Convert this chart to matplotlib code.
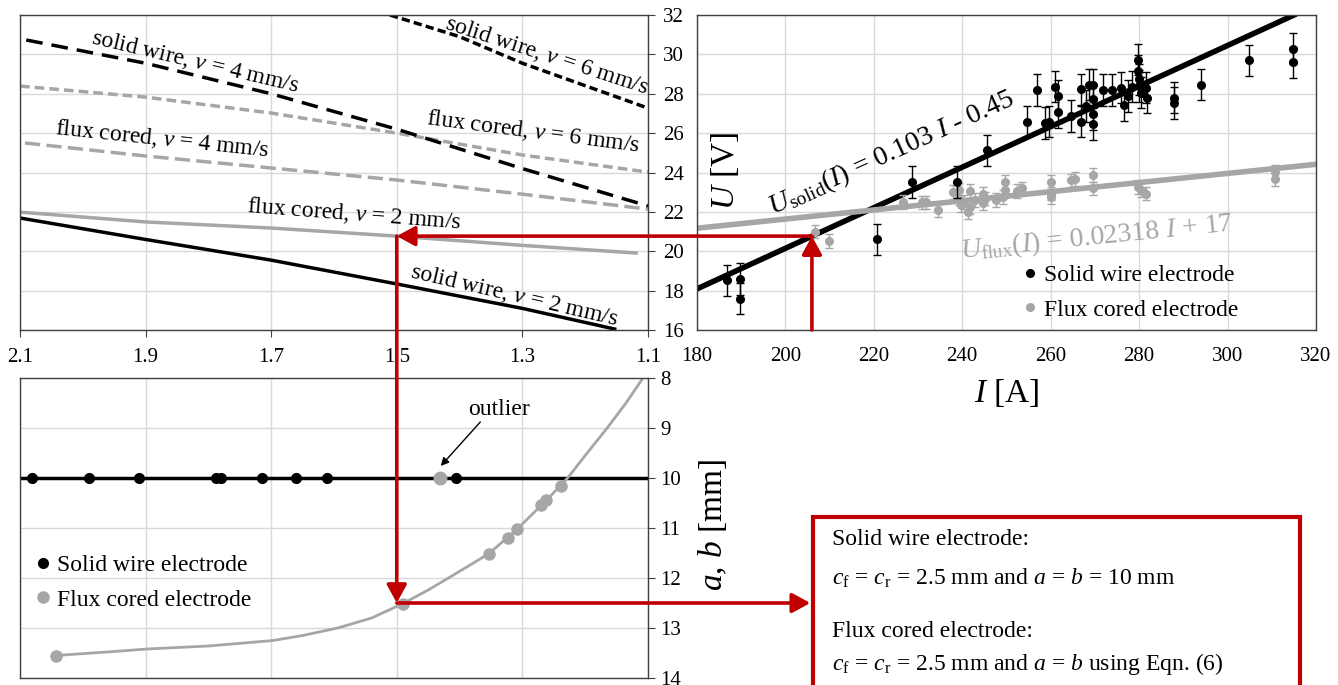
import matplotlib
matplotlib.use("Agg")
import matplotlib.pyplot as plt
from matplotlib.lines import Line2D
from matplotlib.patches import ConnectionPatch, Rectangle
from matplotlib import transforms

# === fonts: Times-like serif everywhere ===
plt.rcParams["font.family"] = ["Liberation Serif", "DejaVu Serif"]
plt.rcParams["mathtext.fontset"] = "custom"
plt.rcParams["mathtext.rm"] = "Liberation Serif"
plt.rcParams["mathtext.it"] = "Liberation Serif:italic"
plt.rcParams["lines.scale_dashes"] = False

RED = "#c00000"
GRAY = "#a6a6a6"
GRID = "#d9d9d9"
SPINE = "#404040"

# === top left: U vs q_net for each electrode / travel speed ===
q_sw2 = [2.1, 1.9, 1.7, 1.5, 1.3, 1.153]
U_sw2 = [21.69, 20.6, 19.55, 18.34, 17.1, 16.05]
q_fc2 = [2.1, 1.9, 1.7, 1.5, 1.3, 1.119]
U_fc2 = [21.99, 21.49, 21.18, 20.77, 20.3, 19.91]
q_fc4 = [2.092, 1.9, 1.7, 1.5, 1.3, 1.1]
U_fc4 = [25.5, 24.84, 24.23, 23.62, 22.9, 22.14]
q_fc6 = [2.1, 1.9, 1.7, 1.5, 1.3, 1.1]
U_fc6 = [28.39, 27.83, 27.02, 26.0, 24.89, 24.02]
q_sw4 = [2.09, 1.9, 1.7, 1.5, 1.3, 1.1]
U_sw4 = [30.73, 29.55, 28.0, 26.2, 24.2, 22.3]
q_sw6 = [1.511, 1.4, 1.3, 1.1]
U_sw6 = [32.0, 30.9, 29.55, 27.27]

# === top right: measured U vs I ===
I_solid = [186.9, 189.7, 189.7, 220.7, 228.7, 238.8, 245.6, 254.7, 256.9, 258.7,
           259.7, 260.9, 261.6, 261.6, 264.6, 266.8, 266.8, 268.1, 268.6, 269.6,
           269.6, 269.6, 269.6, 271.9, 273.9, 275.8, 276.5, 277.5, 278.5, 279.8,
           279.8, 280.0, 280.0, 280.5, 281.5, 281.8, 288.0, 288.0, 293.9, 304.8,
           314.8, 314.8]
U_solid = [18.52, 18.6, 17.6, 20.6, 23.52, 23.52, 25.12, 26.58, 28.19, 26.51,
           26.58, 28.36, 27.89, 27.05, 26.88, 28.22, 26.58, 27.38, 28.47, 28.47,
           27.72, 26.96, 26.46, 28.19, 28.19, 28.31, 27.42, 27.89, 28.36, 29.73,
           29.15, 28.73, 28.39, 28.06, 28.31, 27.8, 27.8, 27.52, 28.47, 29.7,
           30.29, 29.6]
I_flux = [206.8, 209.8, 226.7, 230.8, 231.8, 234.6, 237.8, 239.3, 239.3, 239.8,
          240.3, 241.3, 241.8, 241.8, 242.8, 244.7, 244.7, 245.2, 247.7, 249.2,
          249.7, 249.7, 252.5, 253.5, 260.0, 260.0, 260.0, 264.6, 265.6, 269.6,
          269.6, 279.8, 280.5, 281.5, 310.8, 310.8]
U_flux = [21.0, 20.53, 22.51, 22.48, 22.48, 22.1, 23.02, 23.1, 22.68, 22.35,
          22.5, 22.0, 23.05, 22.26, 22.6, 22.93, 22.43, 22.68, 22.6, 22.77,
          23.52, 23.1, 23.05, 23.19, 23.52, 22.93, 22.77, 23.6, 23.69, 23.89,
          23.19, 23.27, 23.1, 22.93, 24.02, 23.69]
err_solid = 0.8
err_flux = 0.35

# fitted lines (coefficients as printed)
k_solid, c_solid = 0.103, -0.45
k_flux, c_flux = 0.02318, 17.0
I_fit_solid = [180, 315]
I_fit_flux = [180, 320]

# === bottom left: a, b vs q_net ===
q_ab_solid = [2.081, 1.99, 1.911, 1.788, 1.78, 1.715, 1.661, 1.611, 1.406]
ab_solid = [10] * len(q_ab_solid)
q_ab_flux = [2.043, 1.49, 1.353, 1.323, 1.309, 1.27, 1.262, 1.239]
ab_flux = [13.55, 12.51, 11.51, 11.21, 11.03, 10.55, 10.45, 10.16]
q_outlier, ab_outlier = 1.431, 10.0
q_ab_curve = [2.043, 1.95, 1.898, 1.8, 1.697, 1.65, 1.594, 1.54, 1.49, 1.45,
              1.407, 1.353, 1.309, 1.262, 1.228, 1.2, 1.165, 1.135, 1.108]
ab_curve = [13.55, 13.47, 13.42, 13.36, 13.25, 13.15, 13.0, 12.8, 12.51, 12.24,
            11.92, 11.51, 11.03, 10.45, 10.0, 9.55, 9.0, 8.5, 8.0]

# operating point followed by the red arrows
op_I, op_U = 206.0, 20.77
op_q, op_ab = 1.5, 12.5

fig = plt.figure(figsize=(13.38, 6.85), dpi=100)
ax_tl = fig.add_axes([0.0149, 0.5182, 0.4694, 0.4599])
ax_tr = fig.add_axes([0.5209, 0.5182, 0.4626, 0.4599])
ax_bl = fig.add_axes([0.0149, 0.0102, 0.4694, 0.4380])

for ax in (ax_tl, ax_tr, ax_bl):
    ax.set_axisbelow(True)
    ax.grid(True, color=GRID, lw=1)
    for s in ax.spines.values():
        s.set_color(SPINE)
        s.set_linewidth(1)

q_ticks = [2.1, 1.9, 1.7, 1.5, 1.3, 1.1]

# --- top left ---
lw = 2.5
ax_tl.plot(q_sw2, U_sw2, color="black", lw=lw)
ax_tl.plot(q_fc2, U_fc2, color=GRAY, lw=lw)
ax_tl.plot(q_fc4, U_fc4, color=GRAY, lw=lw, ls=(0, (11, 4.5)))
ax_tl.plot(q_fc6, U_fc6, color=GRAY, lw=lw, ls=(0, (7, 3.6)))
ax_tl.plot(q_sw4, U_sw4, color="black", lw=lw, ls=(0, (12, 6.5)))
ax_tl.plot(q_sw6, U_sw6, color="black", lw=lw, ls=(0, (6, 3)))
ax_tl.set_xlim(2.1, 1.1)
ax_tl.set_ylim(16, 32)
ax_tl.set_xticks(q_ticks)
ax_tl.set_xticklabels([f"{q:.1f}" for q in q_ticks])
ax_tl.set_yticks(range(16, 33, 2))
ax_tl.yaxis.tick_right()
ax_tl.tick_params(axis="y", labelright=False, direction="out", length=5, color=SPINE)
ax_tl.tick_params(axis="x", direction="out", length=5, pad=8, labelsize=15, color=SPINE)
ax_tl.set_xlabel(r"$q_\mathrm{net}$ [kJ/mm]", fontsize=24, va="center")
ax_tl.xaxis.set_label_coords(0.474, -0.254)

lab = dict(fontsize=17, ha="center", va="center", rotation_mode="anchor")
ax_tl.text(1.821, 29.6, r"solid wire, $v$ = 4 mm/s", rotation=-13.3, **lab)
ax_tl.text(1.261, 29.95, r"solid wire, $v$ = 6 mm/s", rotation=-18, **lab)
ax_tl.text(1.282, 26.05, r"flux cored, $v$ = 6 mm/s", rotation=-7.4, **lab)
ax_tl.text(1.874, 25.7, r"flux cored, $v$ = 4 mm/s", rotation=-6, **lab)
ax_tl.text(1.567, 21.9, r"flux cored, $v$ = 2 mm/s", rotation=-4.4, **lab)
ax_tl.text(1.313, 17.78, r"solid wire, $v$ = 2 mm/s", rotation=-13.1, **lab)

# --- top right ---
ax_tr.plot(I_fit_solid, [k_solid * i + c_solid for i in I_fit_solid], color="black", lw=4, zorder=2)
ax_tr.plot(I_fit_flux, [k_flux * i + c_flux for i in I_fit_flux], color=GRAY, lw=4, zorder=2)
ax_tr.errorbar(I_flux, U_flux, yerr=err_flux, fmt="o", color=GRAY, ms=5.5,
               elinewidth=1, capsize=3, capthick=1, zorder=3)
ax_tr.errorbar(I_solid, U_solid, yerr=err_solid, fmt="o", color="black", ms=5.5,
               elinewidth=1, capsize=3, capthick=1, zorder=4)
ax_tr.set_xlim(180, 320)
ax_tr.set_ylim(16, 32)
ax_tr.set_xticks(range(180, 321, 20))
ax_tr.set_yticks(range(16, 33, 2))
ax_tr.tick_params(axis="x", length=0, pad=12, labelsize=15)
ax_tr.tick_params(axis="y", length=0, pad=9.5, labelsize=15)
ax_tr.set_xlabel(r"$I$ [A]", fontsize=24, va="center")
ax_tr.xaxis.set_label_coords(0.5, -0.2)
ax_tr.set_ylabel(r"$U$ [V]", fontsize=24, va="center")
ax_tr.yaxis.set_label_coords(0.045, 0.505)
ax_tr.text(224.0, 25.0, r"$U_\mathrm{solid}(I)$ = 0.103 $I$ - 0.45", fontsize=20,
           rotation=24.5, ha="center", va="center", rotation_mode="anchor", zorder=5)
ax_tr.text(270.5, 20.7, r"$U_\mathrm{flux}(I)$ = 0.02318 $I$ + 17", fontsize=20, color=GRAY,
           rotation=5.8, ha="center", va="center", rotation_mode="anchor", zorder=5)
h_tr = [Line2D([], [], marker="o", ls="", color="black", ms=5.5),
        Line2D([], [], marker="o", ls="", color=GRAY, ms=5.5)]
ax_tr.legend(h_tr, ["Solid wire electrode", "Flux cored electrode"], loc="lower left",
             bbox_to_anchor=(0.527, 0.03), frameon=False, fontsize=17, handlelength=0.6,
             handletextpad=0.3, borderpad=0, borderaxespad=0, labelspacing=0.55)

# --- bottom left ---
ax_bl.axhline(10, color="black", lw=2.5, zorder=2)
ax_bl.plot(q_ab_curve, ab_curve, color=GRAY, lw=2, zorder=2)
ax_bl.plot(q_ab_solid, ab_solid, "o", color="black", ms=7, zorder=3)
ax_bl.plot(q_ab_flux, ab_flux, "o", color=GRAY, ms=8, zorder=3)
ax_bl.plot([q_outlier], [ab_outlier], "o", color=GRAY, ms=9, zorder=3)
ax_bl.set_xlim(2.1, 1.1)
ax_bl.set_ylim(14, 8)
ax_bl.set_xticks(q_ticks)
ax_bl.set_yticks(range(8, 15))
ax_bl.yaxis.tick_right()
ax_bl.tick_params(axis="x", length=0, labelbottom=False)
ax_bl.tick_params(axis="y", direction="out", length=5, pad=4, labelsize=15, color=SPINE)
ax_bl.yaxis.set_label_position("right")
ax_bl.set_ylabel(r"$a$, $b$ [mm]", fontsize=24, va="center", rotation=90)
ax_bl.yaxis.set_label_coords(1.102, 0.51)
ax_bl.text(1.337, 8.64, "outlier", fontsize=17, ha="center", va="center")
ax_bl.annotate("", xy=(1.43, 9.76), xytext=(1.367, 8.88),
               arrowprops=dict(arrowstyle="-|>", color="black", lw=1, mutation_scale=12,
                               shrinkA=0, shrinkB=0))
h_bl = [Line2D([], [], marker="o", ls="", color="black", ms=7),
        Line2D([], [], marker="o", ls="", color=GRAY, ms=8)]
ax_bl.legend(h_bl, ["Solid wire electrode", "Flux cored electrode"], loc="lower left",
             bbox_to_anchor=(0.025, 0.225), frameon=False, fontsize=17, handlelength=0.6,
             handletextpad=0.3, borderpad=0, borderaxespad=0, labelspacing=0.55)

# --- red arrows following the operating point ---
arrow = dict(arrowstyle="-|>,head_length=0.55,head_width=0.3", color=RED, lw=2.6,
             mutation_scale=20, shrinkA=0, shrinkB=0)
box_left = 813 / 1338
segs = [
    ((op_I, 16), ax_tr.transData, (op_I, op_U), ax_tr.transData),
    ((op_I, op_U), ax_tr.transData, (op_q, op_U), ax_tl.transData),
    ((op_q, op_U), ax_tl.transData, (op_q, op_ab), ax_bl.transData),
    ((op_q, op_ab), ax_bl.transData, (box_left - 0.002, op_ab),
     transforms.blended_transform_factory(fig.transFigure, ax_bl.transData)),
]
for xyA, cA, xyB, cB in segs:
    cp = ConnectionPatch(xyA=xyA, coordsA=cA, xyB=xyB, coordsB=cB, zorder=10, **arrow)
    fig.add_artist(cp)

# --- result box ---
fig.add_artist(Rectangle((box_left, -0.1), (1300 - 813) / 1338, 0.2453 + 0.1,
                         transform=fig.transFigure, fill=False, ec=RED, lw=3))
tx = 832 / 1338
fig.text(tx, 0.2117, "Solid wire electrode:", fontsize=17, va="center")
fig.text(tx, 0.1562, r"$c_\mathrm{f}$ = $c_\mathrm{r}$ = 2.5 mm and $a$ = $b$ = 10 mm", fontsize=17, va="center")
fig.text(tx, 0.0774, "Flux cored electrode:", fontsize=17, va="center")
fig.text(tx, 0.0307, r"$c_\mathrm{f}$ = $c_\mathrm{r}$ = 2.5 mm and $a$ = $b$ using Eqn. (6)", fontsize=17, va="center")

fig.savefig("out.png", dpi=100)
